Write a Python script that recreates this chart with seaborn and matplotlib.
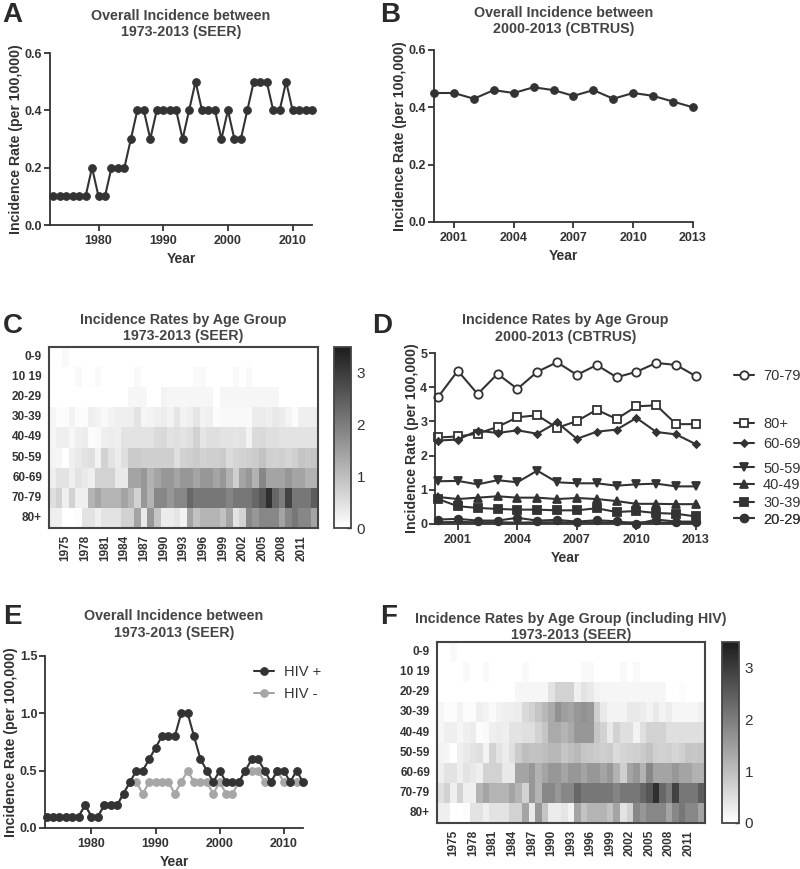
import numpy as np
import pandas as pd
import seaborn as sns
import matplotlib.pyplot as plt

# ---- data ----
years_seer = list(range(1973, 2014))
years_cbtrus = list(range(2000, 2014))
age_groups = ["0-9", "10 19", "20-29", "30-39", "40-49", "50-59", "60-69", "70-79", "80+"]

# A: SEER overall (also the HIV- series in E)
seer_overall = [0.1, 0.1, 0.1, 0.1, 0.1, 0.1, 0.2, 0.1, 0.1, 0.2,
                0.2, 0.2, 0.3, 0.4, 0.4, 0.3, 0.4, 0.4, 0.4, 0.4,
                0.3, 0.4, 0.5, 0.4, 0.4, 0.4, 0.3, 0.4, 0.3, 0.3,
                0.4, 0.5, 0.5, 0.5, 0.4, 0.4, 0.5, 0.4, 0.4, 0.4,
                0.4]
# E: including HIV
seer_hiv_pos = [0.1, 0.1, 0.1, 0.1, 0.1, 0.1, 0.2, 0.1, 0.1, 0.2,
                0.2, 0.2, 0.3, 0.4, 0.5, 0.5, 0.6, 0.7, 0.8, 0.8,
                0.8, 1.0, 1.0, 0.8, 0.6, 0.5, 0.4, 0.5, 0.4, 0.4,
                0.4, 0.5, 0.6, 0.6, 0.5, 0.4, 0.5, 0.5, 0.4, 0.5,
                0.4]
# B: CBTRUS overall
cbtrus_overall = [0.45, 0.45, 0.43, 0.46, 0.45, 0.47, 0.46, 0.44, 0.46, 0.43,
                  0.45, 0.44, 0.42, 0.40]

# D: CBTRUS by age group
d_70_79 = [3.71, 4.48, 3.80, 4.39, 3.95, 4.45, 4.73, 4.36, 4.65, 4.29, 4.45, 4.71, 4.65, 4.32]
d_80p = [2.53, 2.56, 2.64, 2.84, 3.12, 3.18, 2.81, 3.01, 3.34, 3.07, 3.44, 3.47, 2.92, 2.92]
d_60_69 = [2.44, 2.47, 2.73, 2.66, 2.74, 2.64, 2.97, 2.49, 2.70, 2.76, 3.10, 2.69, 2.62, 2.33]
d_50_59 = [1.25, 1.26, 1.16, 1.28, 1.22, 1.56, 1.22, 1.19, 1.19, 1.12, 1.16, 1.18, 1.10, 1.10]
d_40_49 = [0.79, 0.73, 0.77, 0.81, 0.77, 0.77, 0.73, 0.76, 0.73, 0.67, 0.59, 0.59, 0.58, 0.58]
d_30_39 = [0.73, 0.52, 0.47, 0.44, 0.42, 0.42, 0.40, 0.40, 0.46, 0.35, 0.38, 0.32, 0.30, 0.22]
d_20_29 = [0.13, 0.15, 0.10, 0.10, 0.18, 0.10, 0.12, 0.07, 0.11, 0.08, 0.00, 0.13, 0.07, 0.07]
d_10_19 = [0.05, 0.06, 0.05, 0.05, 0.04, 0.05, 0.05, 0.04, 0.05, 0.04, 0.05, 0.04, 0.04, 0.04]

# C: SEER heatmap rows (1973..2013)
c_0_9 = [0.0, 0.0, 0.1, 0.0, 0.0, 0.0, 0.0, 0.0, 0.0, 0.0,
         0.0, 0.0, 0.0, 0.0, 0.0, 0.0, 0.0, 0.0, 0.0, 0.0,
         0.0, 0.0, 0.0, 0.0, 0.0, 0.0, 0.0, 0.0, 0.0, 0.0,
         0.0, 0.0, 0.0, 0.0, 0.0, 0.0, 0.0, 0.0, 0.0, 0.0,
         0.0]
c_10_19 = [0.0, 0.0, 0.0, 0.0, 0.1, 0.0, 0.0, 0.1, 0.0, 0.0,
           0.0, 0.0, 0.0, 0.1, 0.0, 0.0, 0.0, 0.0, 0.0, 0.0,
           0.0, 0.0, 0.1, 0.1, 0.0, 0.0, 0.0, 0.0, 0.1, 0.0,
           0.1, 0.0, 0.0, 0.0, 0.0, 0.0, 0.0, 0.0, 0.0, 0.0,
           0.0]
c_20_29 = [0.0, 0.0, 0.0, 0.0, 0.0, 0.0, 0.0, 0.0, 0.0, 0.0,
           0.0, 0.0, 0.15, 0.15, 0.15, 0.0, 0.0, 0.2, 0.15, 0.15,
           0.15, 0.15, 0.15, 0.15, 0.15, 0.0, 0.15, 0.15, 0.15, 0.15,
           0.15, 0.15, 0.15, 0.15, 0.15, 0.0, 0.0, 0.0, 0.0, 0.0,
           0.0]
c_30_39 = [0.15, 0.05, 0.05, 0.2, 0.05, 0.05, 0.25, 0.2, 0.1, 0.2,
           0.25, 0.25, 0.25, 0.45, 0.15, 0.2, 0.25, 0.3, 0.2, 0.4,
           0.2, 0.25, 0.4, 0.2, 0.25, 0.05, 0.1, 0.1, 0.1, 0.1,
           0.1, 0.3, 0.3, 0.25, 0.35, 0.3, 0.2, 0.05, 0.25, 0.25,
           0.25]
c_40_49 = [0.15, 0.25, 0.25, 0.15, 0.25, 0.3, 0.05, 0.1, 0.25, 0.3,
           0.25, 0.45, 0.45, 0.45, 0.45, 0.45, 0.55, 0.6, 0.45, 0.5,
           0.45, 0.5, 0.7, 0.4, 0.5, 0.5, 0.45, 0.45, 0.4, 0.45,
           0.2, 0.55, 0.6, 0.5, 0.5, 0.45, 0.45, 0.45, 0.45, 0.45,
           0.45]
c_50_59 = [0.2, 0.15, 0.0, 0.25, 0.35, 0.45, 0.5, 0.2, 0.7, 0.45,
           0.3, 0.5, 0.8, 0.8, 0.75, 0.75, 0.75, 0.75, 0.75, 0.5,
           0.7, 0.75, 0.8, 0.7, 0.75, 0.75, 0.8, 0.55, 0.65, 0.7,
           0.75, 0.8, 0.95, 0.75, 0.7, 0.75, 0.65, 0.75, 0.9, 0.85,
           0.9]
c_60_69 = [0.25, 0.45, 0.45, 0.25, 0.45, 0.35, 0.25, 0.7, 0.7, 0.7,
           0.35, 0.35, 1.4, 1.4, 1.6, 1.2, 1.4, 1.6, 1.6, 1.4,
           1.6, 1.6, 1.4, 1.6, 1.6, 1.4, 1.6, 1.2, 0.75, 1.4,
           1.6, 1.2, 1.85, 1.4, 1.4, 1.4, 1.6, 1.4, 1.4, 1.2,
           1.2]
c_70_79 = [0.5, 0.7, 0.25, 0.7, 0.25, 0.25, 1.15, 1.4, 1.15, 1.15,
           1.15, 1.4, 1.15, 0.7, 1.6, 1.15, 1.85, 1.85, 1.6, 1.85,
           1.85, 2.35, 2.1, 2.1, 2.1, 2.1, 2.1, 1.9, 2.1, 2.1,
           2.1, 2.35, 2.6, 3.2, 2.35, 2.0, 2.9, 2.1, 2.1, 2.1,
           2.5]
c_80p = [0.25, 0.25, 0.0, 0.0, 0.05, 0.45, 0.45, 0.25, 0.45, 0.45,
         0.45, 0.7, 0.7, 1.4, 0.35, 1.6, 0.9, 0.3, 0.3, 0.4,
         0.2, 1.4, 0.95, 1.15, 1.15, 1.15, 0.95, 1.4, 0.45, 0.7,
         1.85, 1.6, 1.85, 1.85, 1.85, 1.4, 1.85, 2.1, 1.85, 1.85,
         1.4]

# F: rows that change when HIV cases are included
f_20_29 = [0.0, 0.0, 0.0, 0.0, 0.0, 0.0, 0.0, 0.0, 0.0, 0.0,
           0.0, 0.0, 0.15, 0.15, 0.15, 0.15, 0.15, 0.45, 0.7, 0.7,
           0.7, 0.25, 0.45, 0.35, 0.2, 0.15, 0.15, 0.15, 0.15, 0.15,
           0.15, 0.15, 0.15, 0.15, 0.15, 0.0, 0.0, 0.05, 0.0, 0.0,
           0.0]
f_30_39 = [0.15, 0.05, 0.05, 0.2, 0.05, 0.05, 0.25, 0.2, 0.1, 0.2,
           0.25, 0.25, 0.3, 0.6, 0.7, 0.9, 1.1, 1.3, 1.7, 1.5,
           1.4, 1.6, 1.7, 1.6, 0.75, 0.35, 0.2, 0.2, 0.2, 0.35,
           0.35, 0.3, 0.2, 0.35, 0.2, 0.3, 0.15, 0.15, 0.15, 0.15,
           0.25]
f_40_49 = [0.15, 0.25, 0.25, 0.15, 0.25, 0.3, 0.05, 0.1, 0.25, 0.3,
           0.25, 0.45, 0.45, 0.5, 0.5, 0.7, 0.9, 1.3, 1.3, 1.15,
           1.3, 1.6, 1.6, 1.6, 0.9, 0.7, 0.35, 0.7, 0.5, 0.5,
           0.2, 0.5, 0.7, 0.7, 0.7, 0.5, 0.5, 0.5, 0.5, 0.5,
           0.5]
f_50_59 = [0.2, 0.15, 0.0, 0.25, 0.35, 0.45, 0.5, 0.2, 0.7, 0.45,
           0.3, 0.5, 0.8, 1.0, 0.95, 0.95, 1.0, 1.1, 1.1, 0.9,
           1.0, 1.1, 0.9, 0.85, 0.8, 0.75, 0.8, 0.55, 0.65, 0.7,
           0.75, 0.8, 0.95, 0.75, 0.7, 0.75, 0.65, 0.75, 0.9, 0.85,
           0.9]

# ---- style ----
sns.set_style("ticks")
INK = "#333333"
plt.rcParams["font.family"] = ["Liberation Sans", "DejaVu Sans"]
plt.rcParams["font.weight"] = "bold"
plt.rcParams["axes.titleweight"] = "bold"
plt.rcParams["axes.labelweight"] = "bold"
for k in ["text.color", "axes.labelcolor", "xtick.color", "ytick.color", "axes.edgecolor"]:
    plt.rcParams[k] = INK

grey_cmap = sns.blend_palette(["#ffffff", "#1c1c1c"], as_cmap=True)
W, H = 800, 869
TITLE_KW = dict(fontsize=10.3, color="#444444")


def box(left, top, right, bottom):
    return [left / W, 1 - bottom / H, (right - left) / W, (bottom - top) / H]


def style_lines(ax, ylabel="Incidence Rate (per 100,000)"):
    sns.despine(ax=ax)
    for s in ["left", "bottom"]:
        ax.spines[s].set_linewidth(1.3)
        ax.spines[s].set_color(INK)
    ax.tick_params(axis="x", direction="out", length=4, width=1.3, labelsize=9, pad=3)
    ax.tick_params(axis="y", direction="out", length=4.5, width=1.3, labelsize=9, pad=1)
    ax.set_xlabel("Year", fontsize=10, labelpad=4)
    ax.set_ylabel(ylabel, fontsize=10.2, labelpad=1)


def draw_heat(ax, cax, rows, title, pad):
    df = pd.DataFrame(rows, index=age_groups, columns=years_seer)
    sns.heatmap(df, ax=ax, cbar_ax=cax, cmap=grey_cmap, vmin=0, vmax=3.5,
                xticklabels=False, yticklabels=True)
    ax.set_xticks(np.arange(2, len(years_seer), 3) + 0.5)
    ax.set_xticklabels(years_seer[2::3], rotation=90, fontsize=8.5)
    ax.set_yticklabels(age_groups, rotation=0, fontsize=8.5)
    ax.tick_params(length=0, pad=5)
    ax.set_xlabel("")
    ax.set_ylabel("")
    for s in ax.spines.values():
        s.set_visible(True)
        s.set_color("#444444")
        s.set_linewidth(1.5)
    cb = ax.collections[0].colorbar
    cb.set_ticks([0, 1, 2, 3])
    cb.outline.set_linewidth(1.3)
    cb.outline.set_edgecolor("#444444")
    cax.tick_params(direction="in", length=3, width=1, labelsize=11, pad=4)
    for t in cax.get_yticklabels():
        t.set_fontweight("normal")
    ax.set_title(title, pad=pad, **TITLE_KW)


fig = plt.figure(figsize=(W / 100, H / 100), dpi=100)
line_kw = dict(color=INK, linewidth=1.5, markersize=5.5, markeredgecolor=INK, clip_on=False)

# A
axA = fig.add_axes(box(50, 53, 312, 225))
sns.lineplot(x=years_seer, y=seer_overall, ax=axA, marker="o", **line_kw)
axA.set_xlim(1972.5, 2013)
axA.set_ylim(0, 0.6)
axA.set_xticks([1980, 1990, 2000, 2010])
axA.set_yticks([0.0, 0.2, 0.4, 0.6])
axA.set_yticklabels(["0.0", "0.2", "0.4", "0.6"])
style_lines(axA)
axA.set_title("Overall Incidence between\n1973-2013 (SEER)", pad=12, **TITLE_KW)

# B
axB = fig.add_axes(box(434, 50, 693, 222))
sns.lineplot(x=years_cbtrus, y=cbtrus_overall, ax=axB, marker="o", **line_kw)
axB.set_xlim(2000, 2013)
axB.set_ylim(0, 0.6)
axB.set_xticks([2001, 2004, 2007, 2010, 2013])
axB.set_yticks([0.0, 0.2, 0.4, 0.6])
axB.set_yticklabels(["0.0", "0.2", "0.4", "0.6"])
style_lines(axB)
axB.set_title("Overall Incidence between\n2000-2013 (CBTRUS)", pad=12, **TITLE_KW)

# C
axC = fig.add_axes(box(49, 347, 318, 528))
caxC = fig.add_axes(box(334, 347, 351, 528))
draw_heat(axC, caxC, [c_0_9, c_10_19, c_20_29, c_30_39, c_40_49, c_50_59, c_60_69, c_70_79, c_80p],
          "Incidence Rates by Age Group\n1973-2013 (SEER)", 5)

# D
axD = fig.add_axes(box(435, 353, 696, 524))
d_series = [("70-79", d_70_79, "o", "white", 6),
            ("80+", d_80p, "s", "white", 6),
            ("60-69", d_60_69, "D", INK, 3.5),
            ("50-59", d_50_59, "v", INK, 6),
            ("40-49", d_40_49, "^", INK, 6),
            ("30-39", d_30_39, "s", INK, 5.5),
            ("20-29", d_20_29, "o", INK, 5.5)]
sns.lineplot(x=years_cbtrus, y=d_10_19, ax=axD, color=INK, linewidth=1.5, clip_on=False)
d_handles = []
for name, vals, mk, fc, ms in d_series:
    sns.lineplot(x=years_cbtrus, y=vals, ax=axD, color=INK, linewidth=1.5, marker=mk,
                 markersize=ms, markerfacecolor=fc, markeredgecolor=INK,
                 markeredgewidth=1.3, clip_on=False)
    d_handles.append(axD.get_lines()[-1])
axD.set_xlim(1999.85, 2013)
axD.set_ylim(0, 5)
axD.set_xticks([2001, 2004, 2007, 2010, 2013])
axD.set_yticks([0, 1, 2, 3, 4, 5])
style_lines(axD)
axD.set_title("Incidence Rates by Age Group\n2000-2013 (CBTRUS)", pad=9, **TITLE_KW)
legend_y_D = [4.32, 2.93, 2.33, 1.62, 1.15, 0.61, 0.13]
for h, (name, *_), ly in zip(d_handles, d_series, legend_y_D):
    leg = axD.legend([h], [name], loc="center left", bbox_to_anchor=(1.145, ly / 5),
                     frameon=False, borderpad=0, borderaxespad=0, handlelength=1.4,
                     handletextpad=0.6, prop={"weight": "normal", "size": 10.5})
    axD.add_artist(leg)

# E
axE = fig.add_axes(box(45, 656, 303, 828))
sns.lineplot(x=years_seer, y=seer_hiv_pos, ax=axE, marker="o", label="HIV +", **line_kw)
sns.lineplot(x=years_seer, y=seer_overall, ax=axE, marker="o", label="HIV -",
             color="#a6a6a6", linewidth=1.5, markersize=5.5, markeredgecolor="#a6a6a6", clip_on=False)
axE.get_lines()[1].set_zorder(1.5)
axE.get_lines()[0].set_zorder(2.5)
axE.set_xlim(1972.75, 2013)
axE.set_ylim(0, 1.5)
axE.set_xticks([1980, 1990, 2000, 2010])
axE.set_yticks([0.0, 0.5, 1.0, 1.5])
axE.set_yticklabels(["0.0", "0.5", "1.0", "1.5"])
style_lines(axE)
axE.legend(loc="upper left", bbox_to_anchor=(0.78, 0.99), frameon=False, borderpad=0,
           handlelength=1.4, handletextpad=0.7, labelspacing=0.55,
           prop={"weight": "normal", "size": 10.5})
axE.set_title("Overall Incidence between\n1973-2013 (SEER)", pad=14, **TITLE_KW)

# F
axF = fig.add_axes(box(437, 642, 705, 823))
caxF = fig.add_axes(box(722, 642, 739, 823))
draw_heat(axF, caxF, [c_0_9, c_10_19, f_20_29, f_30_39, f_40_49, f_50_59, c_60_69, c_70_79, c_80p],
          "Incidence Rates by Age Group (including HIV)\n1973-2013 (SEER)", 2)

# panel letters
for letter, x, y in [("A", 2, 2), ("B", 380, 2), ("C", 3, 313), ("D", 372, 313), ("E", 3, 604), ("F", 380, 604)]:
    fig.text(x / W, 1 - y / H, letter, ha="left", va="top", fontsize=20, fontweight="bold", color="#2a2a2a")

fig.savefig("out.png", dpi=100)
